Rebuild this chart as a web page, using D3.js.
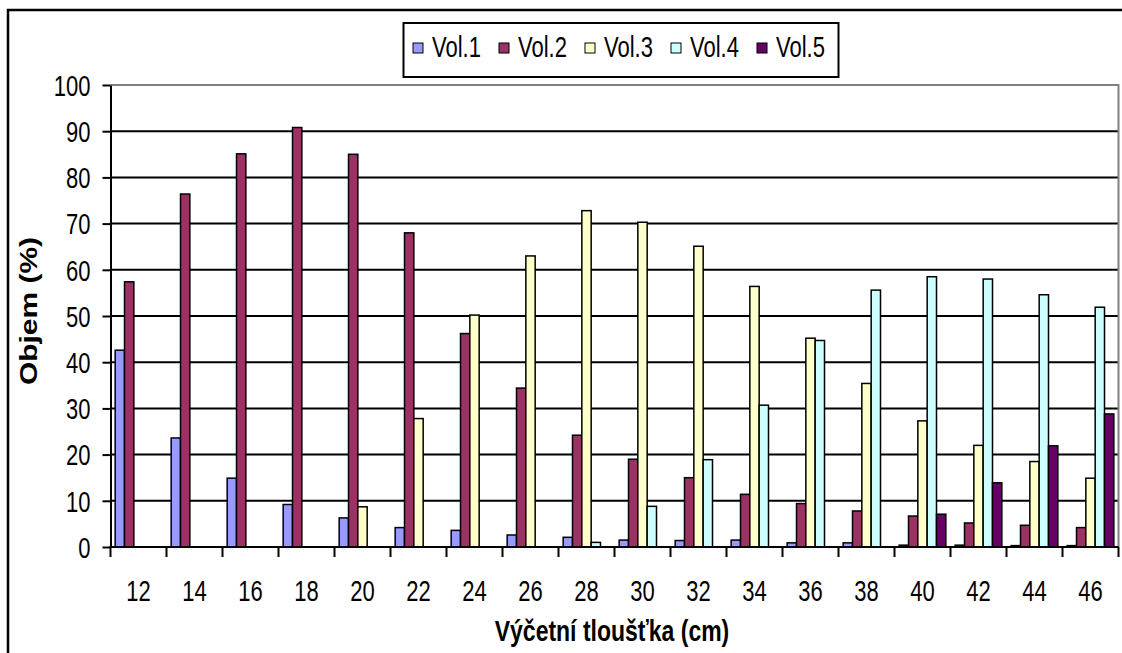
<!DOCTYPE html>
<html>
<head>
<meta charset="utf-8">
<script src="https://cdn.jsdelivr.net/npm/d3@7"></script>
<style>
  html, body { margin: 0; padding: 0; background: #fff; }
  svg { display: block; font-family: "Liberation Sans", Arial, sans-serif; }
</style>
</head>
<body>
<svg id="chart" width="1122" height="653"></svg>
<script>
// Diameter classes (cm)
const categories = [12, 14, 16, 18, 20, 22, 24, 26, 28, 30, 32, 34, 36, 38, 40, 42, 44, 46];
const seriesNames = ["Vol.1", "Vol.2", "Vol.3", "Vol.4", "Vol.5"];
// Share of volume per class (%)
const vol1 = [42.6, 23.6, 14.9, 9.2, 6.3, 4.2, 3.6, 2.6, 2.1, 1.5, 1.4, 1.5, 0.9, 0.9, 0.4, 0.4, 0.3, 0.3];
const vol2 = [57.4, 76.4, 85.1, 90.8, 85.0, 68.0, 46.2, 34.4, 24.2, 19.0, 15.0, 11.4, 9.4, 7.8, 6.7, 5.2, 4.7, 4.2];
const vol3 = [0, 0, 0, 0, 8.7, 27.8, 50.2, 63.0, 72.8, 70.3, 65.1, 56.4, 45.2, 35.4, 27.3, 22.0, 18.5, 14.9];
const vol4 = [0, 0, 0, 0, 0, 0, 0, 0, 1.0, 8.8, 18.9, 30.7, 44.7, 55.6, 58.5, 58.0, 54.6, 51.9];
const vol5 = [0, 0, 0, 0, 0, 0, 0, 0, 0, 0, 0, 0, 0, 0, 7.1, 13.9, 21.9, 28.8];
const yTicks = [0, 10, 20, 30, 40, 50, 60, 70, 80, 90, 100];

const seriesValues = [vol1, vol2, vol3, vol4, vol5];
const colors = ["#9999FF", "#993366", "#FFFFCC", "#CCFFFF", "#660066"];

// Text in this chart is drawn tall and narrow
const FS = 22, STRETCH = 1.3;

const svg = d3.select("#chart");
const plot = { left: 110.5, right: 1118.5, top: 85, bottom: 547 };

// Outer chart frame
svg.append("rect")
  .attr("x", 8).attr("y", 10)
  .attr("width", 1130).attr("height", 660)
  .attr("fill", "#fff").attr("stroke", "#000").attr("stroke-width", 2.5);

const x = d3.scaleBand().domain(categories).range([plot.left, plot.right]).padding(0);
const xs = d3.scaleBand().domain(seriesNames).range([0, x.bandwidth()])
  .paddingInner(0).paddingOuter(0.5);
const y = d3.scaleLinear().domain([0, 100]).range([plot.bottom, plot.top]);

// Horizontal gridlines
svg.append("g")
  .selectAll("line")
  .data(yTicks.filter(t => t > 0 && t < 100))
  .join("line")
  .attr("x1", plot.left).attr("x2", plot.right)
  .attr("y1", d => y(d)).attr("y2", d => y(d))
  .attr("stroke", "#000").attr("stroke-width", 2);

// Plot area border (top and right)
svg.append("path")
  .attr("d", `M${plot.left},${y(100)}H${plot.right}V${plot.bottom}`)
  .attr("fill", "none").attr("stroke", "#808080").attr("stroke-width", 2);

// Bars
const rows = [];
seriesValues.forEach((vals, si) => {
  vals.forEach((v, ci) => {
    if (v > 0) rows.push({ s: seriesNames[si], c: categories[ci], v, si });
  });
});
svg.append("g")
  .selectAll("rect")
  .data(rows)
  .join("rect")
  .attr("x", d => x(d.c) + xs(d.s))
  .attr("y", d => y(d.v))
  .attr("width", xs.bandwidth())
  .attr("height", d => y(0) - y(d.v))
  .attr("fill", d => colors[d.si])
  .attr("stroke", "#000").attr("stroke-width", 1.5);

// Y axis
const yAxis = svg.append("g")
  .attr("transform", `translate(${plot.left},0)`)
  .call(d3.axisLeft(y).tickValues(yTicks).tickSize(8).tickPadding(12).tickSizeOuter(0));
yAxis.select(".domain").attr("stroke", "#000").attr("stroke-width", 2);
yAxis.selectAll(".tick line").attr("stroke", "#000").attr("stroke-width", 2);
yAxis.selectAll(".tick text")
  .attr("font-size", FS).attr("fill", "#000")
  .attr("font-family", "Liberation Sans, Arial, sans-serif")
  .attr("dy", null).attr("y", 0)
  .attr("transform", `translate(0,${0.36 * FS * STRETCH}) scale(1,${STRETCH})`);

// X axis: ticks at class boundaries, labels centred in classes
const xAxis = svg.append("g")
  .attr("transform", `translate(0,${plot.bottom})`)
  .call(d3.axisBottom(x).tickSize(0).tickPadding(0).tickSizeOuter(0));
xAxis.select(".domain").remove();
xAxis.selectAll(".tick line").remove();
xAxis.selectAll(".tick text")
  .attr("font-size", FS).attr("fill", "#000")
  .attr("font-family", "Liberation Sans, Arial, sans-serif")
  .attr("dy", null).attr("y", 0)
  .attr("transform", `translate(0,54) scale(1,${STRETCH})`);
svg.append("line")
  .attr("x1", plot.left - 1).attr("x2", plot.right)
  .attr("y1", plot.bottom).attr("y2", plot.bottom)
  .attr("stroke", "#000").attr("stroke-width", 2);
svg.append("g")
  .selectAll("line")
  .data(categories.concat([null]))
  .join("line")
  .attr("x1", (d, i) => i < categories.length ? x(d) : plot.right)
  .attr("x2", (d, i) => i < categories.length ? x(d) : plot.right)
  .attr("y1", plot.bottom).attr("y2", plot.bottom + 10)
  .attr("stroke", "#000").attr("stroke-width", 2);

// Axis titles
svg.append("text")
  .attr("transform", `translate(612,641) scale(1,1.25)`)
  .attr("text-anchor", "middle")
  .attr("font-size", 23).attr("font-weight", "bold")
  .text("Výčetní tloušťka (cm)");

svg.append("text")
  .attr("transform", "translate(37,311) rotate(-90)")
  .attr("text-anchor", "middle")
  .attr("font-size", 24).attr("font-weight", "bold")
  .attr("textLength", 148).attr("lengthAdjust", "spacingAndGlyphs")
  .text("Objem (%)");

// Legend
const legend = svg.append("g");
legend.append("rect")
  .attr("x", 403.5).attr("y", 23)
  .attr("width", 435).attr("height", 54)
  .attr("fill", "#fff").attr("stroke", "#000").attr("stroke-width", 2);
const items = legend.selectAll("g.item")
  .data(seriesNames)
  .join("g")
  .attr("class", "item")
  .attr("transform", (d, i) => `translate(${413 + i * 86},0)`);
items.append("rect")
  .attr("x", 0).attr("y", 43)
  .attr("width", 10).attr("height", 10)
  .attr("fill", (d, i) => colors[i])
  .attr("stroke", "#000").attr("stroke-width", 1);
items.append("text")
  .attr("transform", `translate(19,57) scale(1,${STRETCH})`)
  .attr("font-size", FS)
  .text(d => d);
</script>
</body>
</html>
